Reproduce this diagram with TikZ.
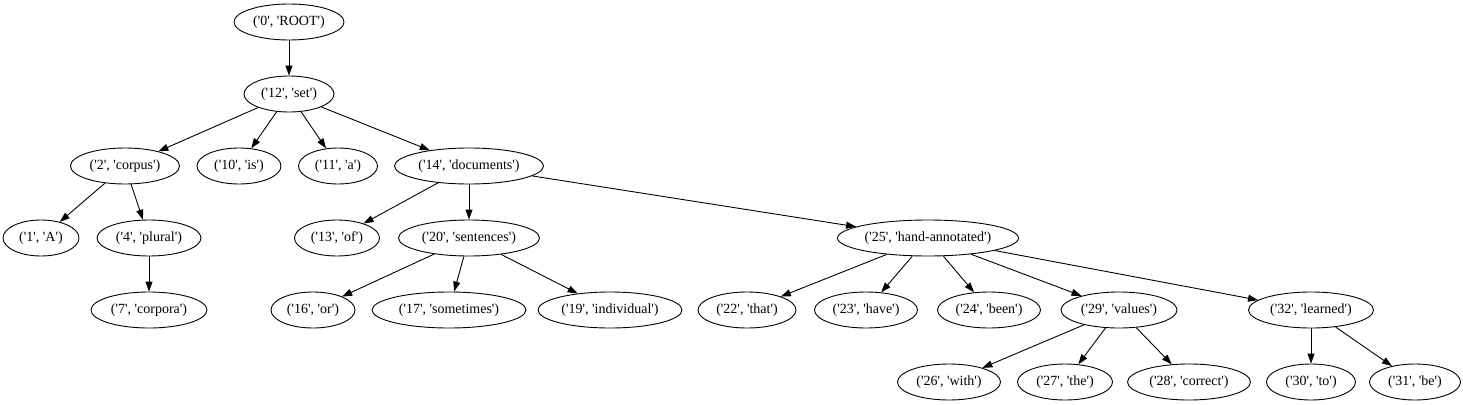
\documentclass[tikz,border=0pt]{standalone}
\usepackage{fontspec}
\setmainfont{Liberation Serif}[Ligatures=TeXOff]
\usetikzlibrary{shapes.geometric,arrows.meta}
\begin{document}
\begin{tikzpicture}[x=1pt,y=-1pt,
  tok/.style={draw,ellipse,line width=0.9pt,inner sep=0pt,minimum height=36pt,font=\fontsize{14}{16}\selectfont},
  dep/.style={line width=0.9pt,-{Triangle[length=10pt,width=7pt]}}]
\useasboundingbox (0,0) rectangle (1463,404);
% row 0
\node[tok,minimum width=110pt] (n0) at (289,22) {('0', 'ROOT')};
% row 1
\node[tok,minimum width=90pt] (n12) at (289,94) {('12', 'set')};
% row 2
\node[tok,minimum width=109pt] (n2) at (125,166) {('2', 'corpus')};
\node[tok,minimum width=84pt] (n10) at (239,166) {('10', 'is')};
\node[tok,minimum width=79pt] (n11) at (338,166) {('11', 'a')};
\node[tok,minimum width=149pt] (n14) at (469,166) {('14', 'documents')};
% row 3
\node[tok,minimum width=76pt] (n1) at (41,238) {('1', 'A')};
\node[tok,minimum width=104pt] (n4) at (149,238) {('4', 'plural')};
\node[tok,minimum width=85pt] (n13) at (337,238) {('13', 'of')};
\node[tok,minimum width=141pt] (n20) at (469,238) {('20', 'sentences')};
\node[tok,minimum width=181pt] (n25) at (928,238) {('25', 'hand-annotated')};
% row 4
\node[tok,minimum width=116pt] (n7) at (149,310) {('7', 'corpora')};
\node[tok,minimum width=84pt] (n16) at (313,310) {('16', 'or')};
\node[tok,minimum width=154pt] (n17) at (449,310) {('17', 'sometimes')};
\node[tok,minimum width=144pt] (n19) at (610,310) {('19', 'individual')};
\node[tok,minimum width=98pt] (n22) at (747,310) {('22', 'that')};
\node[tok,minimum width=103pt] (n23) at (866,310) {('23', 'have')};
\node[tok,minimum width=103pt] (n24) at (989,310) {('24', 'been')};
\node[tok,minimum width=116pt] (n29) at (1119,310) {('29', 'values')};
\node[tok,minimum width=125pt] (n32) at (1311,310) {('32', 'learned')};
% row 5
\node[tok,minimum width=103pt] (n26) at (949,382) {('26', 'with')};
\node[tok,minimum width=95pt] (n27) at (1065,382) {('27', 'the')};
\node[tok,minimum width=123pt] (n28) at (1189,382) {('28', 'correct')};
\node[tok,minimum width=89pt] (n30) at (1311,382) {('30', 'to')};
\node[tok,minimum width=91pt] (n31) at (1415,382) {('31', 'be')};
% edges
\draw[dep] (n0) -- (n12);
\draw[dep] (n12) -- (n2);
\draw[dep] (n12) -- (n10);
\draw[dep] (n12) -- (n11);
\draw[dep] (n12) -- (n14);
\draw[dep] (n2) -- (n1);
\draw[dep] (n2) -- (n4);
\draw[dep] (n4) -- (n7);
\draw[dep] (n14) -- (n13);
\draw[dep] (n14) -- (n20);
\draw[dep] (n14) -- (n25);
\draw[dep] (n20) -- (n16);
\draw[dep] (n20) -- (n17);
\draw[dep] (n20) -- (n19);
\draw[dep] (n25) -- (n22);
\draw[dep] (n25) -- (n23);
\draw[dep] (n25) -- (n24);
\draw[dep] (n25) -- (n29);
\draw[dep] (n25) -- (n32);
\draw[dep] (n29) -- (n26);
\draw[dep] (n29) -- (n27);
\draw[dep] (n29) -- (n28);
\draw[dep] (n32) -- (n30);
\draw[dep] (n32) -- (n31);
\end{tikzpicture}
\end{document}
